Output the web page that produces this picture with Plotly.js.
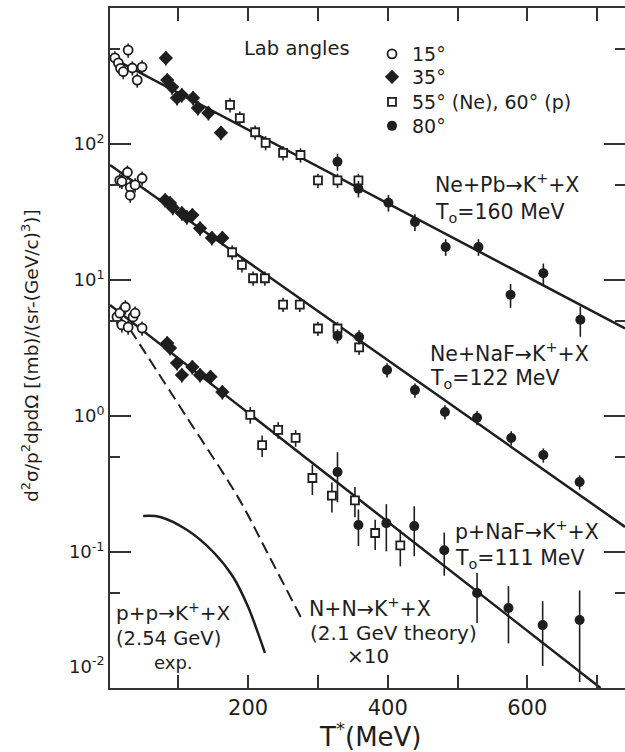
<!DOCTYPE html>
<html><head><meta charset="utf-8">
<script src="https://cdn.plot.ly/plotly-3.0.1.min.js"></script>
<style>html,body{margin:0;padding:0;background:#fff;overflow:hidden}</style>
</head><body><div id="chart" style="width:625px;height:752px"></div>
<script>
// ---------- DATA (T* in MeV, cross section in mb/(sr-(GeV/c)^3)) ----------
// Ne + Pb -> K+ + X
const nePb15T = [9, 14, 17, 21, 28, 34, 41, 48];
const nePb15V = [430, 395, 360, 340, 490, 362, 295, 368];
const nePb35T = [82, 84, 91, 98, 105, 121, 128, 143, 161];
const nePb35V = [429, 295, 262, 218, 229, 218, 184, 169, 121];
const nePb55T = [174, 188, 210, 225, 250, 275, 300, 328, 358];
const nePb55V = [194, 155, 122, 102, 86, 83, 54, 54, 54];
const nePb80T = [328, 358, 401, 439, 483, 530, 576, 623, 676];
const nePb80V = [74, 47, 37, 26.7, 17.5, 17.5, 7.8, 11.2, 5.1];
const nePb80E = [14, 14, 14, 14, 14, 14, 20, 18, 25];   // error, percent
// Ne + NaF -> K+ + X
const neNaF15T = [16, 19, 27, 31, 31, 38, 48];
const neNaF15V = [54, 53, 62, 48, 42, 50, 56];
const neNaF35T = [81, 88, 92, 105, 112, 120, 131, 148, 163];
const neNaF35V = [38.7, 36.8, 34, 31, 29, 30, 24, 20.4, 20.4];
const neNaF55T = [177, 191, 207, 224, 250, 274, 300, 328, 359];
const neNaF55V = [16, 12.9, 10.3, 10.3, 6.6, 6.6, 4.4, 4.4, 3.2];
const neNaF80T = [328, 359, 399, 439, 482, 528, 577, 623, 675];
const neNaF80V = [3.87, 3.81, 2.18, 1.55, 1.07, 0.97, 0.69, 0.516, 0.327];
// p + NaF -> K+ + X
const pNaF15T = [12, 16, 19, 24, 28, 35, 38, 48];
const pNaF15V = [5.35, 5.7, 4.67, 6.33, 4.5, 5.35, 5.7, 4.43];
const pNaF35T = [84, 88, 98, 105, 120, 131, 146, 163];
const pNaF35V = [3.44, 3.16, 2.45, 2.0, 2.29, 2.0, 1.94, 1.5];
const pNaF60T = [203, 220, 243, 268, 292, 320, 353, 382, 418];
const pNaF60V = [1.02, 0.61, 0.79, 0.69, 0.35, 0.26, 0.24, 0.138, 0.112];
const pNaF60E = [14, 18, 14, 14, 25, 25, 25, 25, 30];
const pNaF80T = [328, 358, 398, 438, 481, 528, 573, 622, 675];
const pNaF80V = [0.387, 0.158, 0.163, 0.155, 0.103, 0.05, 0.0387, 0.029, 0.0316];
const pNaF80E = [40, 30, 38, 40, 35, 40, 45, 50, 65];
const smallErr = 12;
// exponential fits (end points)
const nePbFitT = [2, 740],  nePbFitV = [437, 4.4];
const neNaFFitT = [2, 740], neNaFFitV = [70, 0.153];
const pNaFFitT = [2, 705],  pNaFFitV = [6.55, 0.01];
// N+N -> K+ + X (2.1 GeV theory) x10
const nnT = [30, 112, 186, 227, 277];
const nnV = [4.4, 0.98, 0.25, 0.1, 0.032];
// p+p -> K+ + X (2.54 GeV) exp.
const ppT = [49.5, 74, 112.5, 150, 178.5, 200, 214, 224];
const ppV = [0.184, 0.181, 0.145, 0.100, 0.0655, 0.0394, 0.0254, 0.0181];
// tick labels
const yTickVals = [0.1, 1, 10, 100];
const yTickText = ['10<sup>-1</sup>', '10<sup>0</sup>', '10<sup>1</sup>', '10<sup>2</sup>'];
const yMinorVals = [0.05, 0.5, 5, 50, 500];
const xTickVals = [100, 200, 300, 400, 500, 600, 700];
const xTickText = ['', '200', '', '400', '', '600', ''];
const angleNames = ['15°', '35°', '55° (Ne), 60° (p)', '80°'];

// ---------- BUILD ----------
const INK = '#1e1e1e';
const FONT = 'DejaVu Sans, Liberation Sans, sans-serif';
function errs(vals, pct) { return vals.map((v, i) => v * (Array.isArray(pct) ? pct[i] : pct) / 100); }
function lineTrace(x, y, dash, w, shape) {
  return {x: x, y: y, mode: 'lines', showlegend: false, hoverinfo: 'skip',
          line: {color: INK, width: w, dash: dash, shape: shape || 'linear'}};
}
function markTrace(name, legendId, xs, ys, es, marker) {
  const x = [].concat(...xs), y = [].concat(...ys), e = [].concat(...es);
  return {x: x, y: y, name: name, legend: legendId, mode: 'markers', type: 'scatter', marker: marker,
          error_y: {type: 'data', array: e, visible: true, color: INK, thickness: 1.6, width: 0}};
}
const traces = [
  lineTrace(nePbFitT, nePbFitV, 'solid', 2.5),
  lineTrace(neNaFFitT, neNaFFitV, 'solid', 2.5),
  lineTrace(pNaFFitT, pNaFFitV, 'solid', 2.5),
  lineTrace(nnT, nnV, '12px,6px', 2, 'spline'),
  lineTrace(ppT, ppV, 'solid', 2.5, 'spline'),
  markTrace(angleNames[0], 'legend', [nePb15T, neNaF15T, pNaF15T], [nePb15V, neNaF15V, pNaF15V],
    [errs(nePb15V, smallErr), errs(neNaF15V, smallErr), errs(pNaF15V, smallErr)],
    {symbol: 'circle', size: 9, color: '#fff', line: {color: INK, width: 1.8}}),
  markTrace(angleNames[1], 'legend2', [nePb35T, neNaF35T, pNaF35T], [nePb35V, neNaF35V, pNaF35V],
    [errs(nePb35V, smallErr), errs(neNaF35V, smallErr), errs(pNaF35V, smallErr)],
    {symbol: 'diamond', size: 11, color: INK, line: {color: INK, width: 0}}),
  markTrace(angleNames[2], 'legend3', [nePb55T, neNaF55T, pNaF60T], [nePb55V, neNaF55V, pNaF60V],
    [errs(nePb55V, smallErr), errs(neNaF55V, smallErr), errs(pNaF60V, pNaF60E)],
    {symbol: 'square', size: 8, color: '#fff', line: {color: INK, width: 1.8}}),
  markTrace(angleNames[3], 'legend4', [nePb80T, neNaF80T, pNaF80T], [nePb80V, neNaF80V, pNaF80V],
    [errs(nePb80V, nePb80E), errs(neNaF80V, smallErr), errs(pNaF80V, pNaF80E)],
    {symbol: 'circle', size: 10, color: INK, line: {color: INK, width: 0}})
];

// pixel -> paper helper (plot area: x 110..625, y 8..688)
function P(px, py) { return {x: (px - 110) / 515, y: 1 - (py - 8) / 680}; }
function ann(text, px, py, anchor, size, angle) {
  const p = P(px, py);
  return {text: text, x: p.x, y: p.y, xref: 'paper', yref: 'paper', showarrow: false,
          xanchor: anchor || 'left', yanchor: 'middle', textangle: angle || 0,
          font: {family: FONT, size: size || 20, color: INK}};
}
const annotations = [
  ann('Lab angles', 242, 48, 'left', 19.5),
  ann('Ne+Pb→K<sup>+</sup>+X', 433, 184, 'left', 20.5),
  ann('T<sub>o</sub>=160 MeV', 433, 213, 'left', 20.5),
  ann('Ne+NaF→K<sup>+</sup>+X', 428, 352, 'left', 20.5),
  ann('T<sub>o</sub>=122 MeV', 428, 379, 'left', 20.5),
  ann('p+NaF→K<sup>+</sup>+X', 453, 530, 'left', 20.5),
  ann('T<sub>o</sub>=111 MeV', 453, 559, 'left', 20.5),
  ann('N+N→K<sup>+</sup>+X', 307, 607, 'left', 20.5),
  ann('(2.1 GeV theory)', 308, 633, 'left', 20),
  ann('×10', 345, 656, 'left', 20),
  ann('p+p→K<sup>+</sup>+X', 114, 612, 'left', 20),
  ann('(2.54 GeV)', 114, 638, 'left', 19.5),
  ann('exp.', 152, 662, 'left', 18),
  ann('10<sup>-2</sup>', 106, 665, 'right', 18),
  ann('T<sup>*</sup>(MeV)', 370, 735, 'center', 26),
  ann('d<sup>2</sup>σ/p<sup>2</sup>dpdΩ [(mb)/(sr-(GeV/c)<sup>3</sup>)]', 30, 356, 'center', 18.5, -90)
];

function legendAt(rowCenterPx) {
  const p = P(372, rowCenterPx - 15);
  return {x: p.x, y: p.y, xanchor: 'left', yanchor: 'top', bgcolor: 'rgba(0,0,0,0)',
          font: {family: FONT, size: 19, color: INK}, itemclick: false, itemdoubleclick: false};
}
const axisCommon = {showline: true, linewidth: 2, linecolor: '#333', mirror: 'allticks',
  ticks: 'inside', tickcolor: '#333', tickwidth: 2, showgrid: false, zeroline: false};
const layout = {
  width: 625, height: 752,
  margin: {l: 110, r: 0, t: 8, b: 64, pad: 0},
  paper_bgcolor: '#fff', plot_bgcolor: '#fff',
  font: {family: FONT, color: INK},
  showlegend: true,
  legend: legendAt(50),
  legend2: legendAt(73),
  legend3: legendAt(98),
  legend4: legendAt(122),
  xaxis: Object.assign({}, axisCommon, {range: [2, 740], tickvals: xTickVals, ticktext: xTickText,
           ticklen: 13, tickfont: {family: FONT, size: 21, color: INK}}),
  yaxis: Object.assign({}, axisCommon, {type: 'log', range: [-2, 3], tickvals: yTickVals, ticktext: yTickText,
           ticklen: 21, tickfont: {family: FONT, size: 18, color: INK},
           minor: {tickvals: yMinorVals, ticks: 'inside', ticklen: 10, tickwidth: 2, tickcolor: '#333', showgrid: false}}),
  annotations: annotations
};
Plotly.newPlot('chart', traces, layout, {staticPlot: true, displayModeBar: false});
</script></body></html>
